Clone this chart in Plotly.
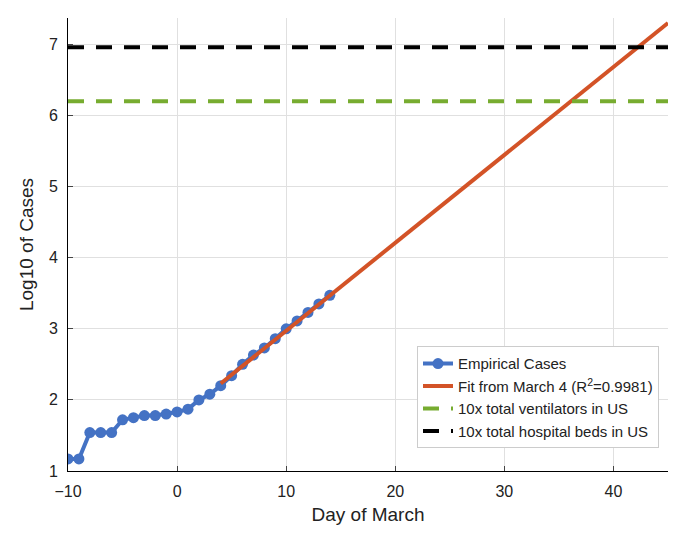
import plotly.graph_objects as go

days = list(range(-10, 15))
log_cases = [1.17, 1.17, 1.54, 1.54, 1.54, 1.72, 1.75, 1.78, 1.78, 1.80, 1.83, 1.87,
             2.00, 2.08, 2.20, 2.34, 2.50, 2.63, 2.73, 2.86, 3.00, 3.11, 3.23, 3.35, 3.47]
fit_days = [4, 45]
fit_vals = [2.23, 7.30]
ventilators = 6.2
hospital_beds = 6.96
x_span = [-10, 45]

fig = go.Figure()
fig.add_trace(go.Scatter(x=days, y=log_cases, mode="lines+markers", name="Empirical Cases",
                         line=dict(color="#4472C4", width=4), marker=dict(size=11, color="#4472C4")))
fig.add_trace(go.Scatter(x=fit_days, y=fit_vals, mode="lines", name="Fit from March 4 (R<sup>2</sup>=0.9981)",
                         line=dict(color="#D35327", width=4)))
fig.add_trace(go.Scatter(x=x_span, y=[ventilators] * 2, mode="lines", name="10x total ventilators in US",
                         line=dict(color="#77AC30", width=4, dash="16px,12px")))
fig.add_trace(go.Scatter(x=x_span, y=[hospital_beds] * 2, mode="lines", name="10x total hospital beds in US",
                         line=dict(color="black", width=4, dash="16px,12px")))

axis = dict(showgrid=True, gridcolor="#e0e0e0", zeroline=False, showline=True, linecolor="black",
            mirror=False, ticks="inside", ticklen=5, tickfont=dict(size=16, color="#222"))
fig.update_layout(
    width=680, height=545, plot_bgcolor="white", paper_bgcolor="white",
    font=dict(family="Liberation Sans, Arial", color="#222"),
    margin=dict(l=60, r=20, t=10, b=82),
    xaxis=dict(axis, range=[-10, 45], dtick=10, ticklabelstandoff=6,
               title=dict(text="Day of March", font=dict(size=19), standoff=8)),
    yaxis=dict(axis, range=[1, 7.37], dtick=1, ticklabelstandoff=6,
               title=dict(text="Log10 of Cases", font=dict(size=19), standoff=10)),
    legend=dict(x=0.985, y=0.05, xanchor="right", yanchor="bottom", bgcolor="white",
                bordercolor="#ccc", borderwidth=1, font=dict(size=15)),
)
fig.write_html("out.html")
